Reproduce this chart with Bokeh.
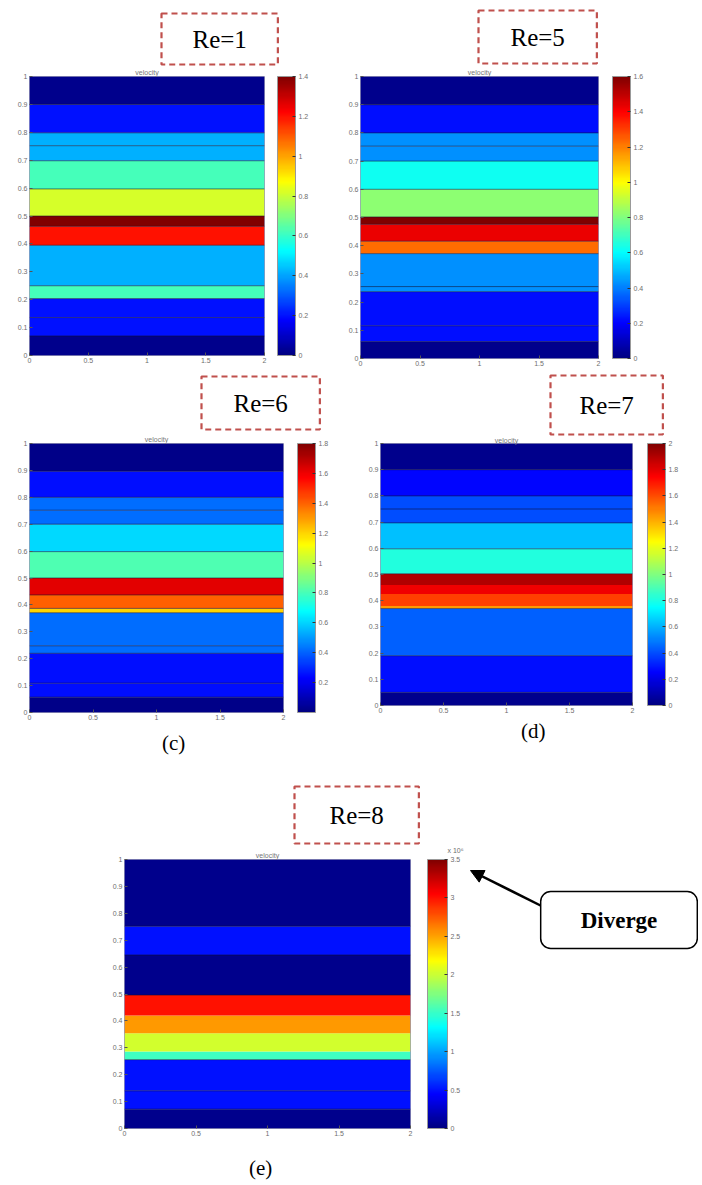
from bokeh.plotting import figure
from bokeh.models import (ColumnDataSource, LinearColorMapper, ColorBar, FixedTicker,
                          PrintfTickFormatter, Label, Arrow, NormalHead, Range1d, Title)
from bokeh.layouts import column, row
from bokeh.embed import file_html
from bokeh.resources import INLINE

# ---------------- data ----------------
X_TICKS = [0, 0.5, 1, 1.5, 2]
Y_TICKS = [0, 0.1, 0.2, 0.3, 0.4, 0.5, 0.6, 0.7, 0.8, 0.9, 1.0]

# Re = 1
A_EDGES = [0, 0.07, 0.136, 0.204, 0.25, 0.395, 0.463, 0.50, 0.597, 0.698, 0.752, 0.798, 0.90, 1.0]
A_VALUES = [0.02, 0.2, 0.2, 0.62, 0.42, 1.2, 1.4, 0.82, 0.62, 0.42, 0.42, 0.2, 0.02]
A_LINES = [0.07, 0.136, 0.204, 0.25, 0.395, 0.463, 0.50, 0.597, 0.698, 0.752, 0.798, 0.90]
A_RANGE = (0, 1.4)
A_CTICKS = [0, 0.2, 0.4, 0.6, 0.8, 1.0, 1.2, 1.4]

# Re = 5
B_EDGES = [0, 0.06, 0.116, 0.237, 0.372, 0.416, 0.476, 0.502, 0.60, 0.70, 0.753, 0.80, 0.90, 1.0]
B_VALUES = [0.02, 0.22, 0.22, 0.43, 1.23, 1.43, 1.6, 0.82, 0.62, 0.43, 0.43, 0.22, 0.02]
B_LINES = [0.06, 0.116, 0.237, 0.255, 0.372, 0.416, 0.476, 0.502, 0.60, 0.70, 0.753, 0.80, 0.90]
B_RANGE = (0, 1.6)
B_CTICKS = [0, 0.2, 0.4, 0.6, 0.8, 1.0, 1.2, 1.4, 1.6]

# Re = 6
C_EDGES = [0, 0.057, 0.109, 0.22, 0.248, 0.371, 0.387, 0.437, 0.50, 0.598, 0.70, 0.752, 0.80, 0.897, 1.0]
C_VALUES = [0.02, 0.25, 0.25, 0.42, 0.42, 1.2, 1.4, 1.62, 0.81, 0.61, 0.42, 0.42, 0.25, 0.02]
C_LINES = [0.057, 0.109, 0.22, 0.248, 0.371, 0.387, 0.437, 0.50, 0.598, 0.70, 0.752, 0.80, 0.897]
C_RANGE = (0, 1.8)
C_CTICKS = [0.2, 0.4, 0.6, 0.8, 1.0, 1.2, 1.4, 1.6, 1.8]

# Re = 7
D_EDGES = [0, 0.05, 0.19, 0.37, 0.38, 0.426, 0.46, 0.503, 0.598, 0.697, 0.75, 0.80, 0.90, 1.0]
D_VALUES = [0.03, 0.28, 0.44, 1.45, 1.62, 1.78, 1.9, 0.82, 0.63, 0.4, 0.4, 0.26, 0.03]
D_LINES = [0.05, 0.19, 0.37, 0.503, 0.598, 0.697, 0.75, 0.80, 0.90]
D_RANGE = (0, 2.0)
D_CTICKS = [0, 0.2, 0.4, 0.6, 0.8, 1.0, 1.2, 1.4, 1.6, 1.8, 2.0]

# Re = 8
E_EDGES = [0, 0.072, 0.14, 0.256, 0.286, 0.354, 0.42, 0.496, 0.645, 0.752, 1.0]
E_VALUES = [0.05, 0.5, 0.5, 1.53, 2.03, 2.54, 3.0, 0.05, 0.5, 0.05]
E_LINES = [0.072, 0.14, 0.256, 0.496, 0.645, 0.752]
E_RANGE = (0, 3.5)
E_CTICKS = [0, 0.5, 1.0, 1.5, 2.0, 2.5, 3.0, 3.5]


def jet(n=256):
    cols = []
    for i in range(n):
        t = i / (n - 1)
        r = min(max(1.5 - abs(4 * t - 3), 0), 1)
        g = min(max(1.5 - abs(4 * t - 2), 0), 1)
        b = min(max(1.5 - abs(4 * t - 1), 0), 1)
        cols.append('#%02x%02x%02x' % (int(round(r * 255)), int(round(g * 255)), int(round(b * 255))))
    return cols


JET = jet()
TICK_FONT = "Liberation Sans"
TICK_COLOR = "#6e6e6e"
SERIF = "Liberation Serif"
BOX_COLOR = "#c0504d"


def make_colorbar(mapper, loc, w, h, cticks):
    return ColorBar(color_mapper=mapper, location=loc,
                    width=w, height=h, padding=0, margin=0,
                    ticker=FixedTicker(ticks=cticks), formatter=PrintfTickFormatter(format="%g"),
                    major_label_text_font=TICK_FONT, major_label_text_font_size="7px",
                    major_label_text_color=TICK_COLOR, major_tick_in=3, major_tick_out=0,
                    major_tick_line_color="#333333", minor_tick_line_color=None,
                    label_standoff=3, bar_line_color="#999999", border_line_color=None,
                    background_fill_color=None)


def make_panel(edges, values, lines, vrange, cticks, re_text, g, caption=None, own_cbar=True):
    p = figure(frame_width=g['fw'], frame_height=g['fh'],
               min_border_left=g['bl'], min_border_top=g['bt'],
               min_border_bottom=g['bb'], min_border_right=g['br'],
               x_range=Range1d(0, 2), y_range=Range1d(0, 1),
               toolbar_location=None, output_backend="svg")
    p.grid.visible = False
    p.outline_line_color = "#9a9ab8"
    p.background_fill_color = "white"
    p.border_fill_color = "white"

    # "velocity" title, then the dashed "Re=" box stacked above it
    p.add_layout(Title(text="velocity", align="center", text_font=TICK_FONT,
                       text_font_size="7px", text_font_style="normal",
                       text_color="#777777", standoff=g['vsd']), "above")
    bw, bh = g['boxwh']
    p.add_layout(Title(text=re_text, align="left", offset=g['boxdx'],
                       text_font=SERIF, text_font_size="25px", text_font_style="normal",
                       text_color="black", standoff=g['boxsd'],
                       border_line_color=BOX_COLOR, border_line_width=2.2,
                       border_line_dash="6 4", background_fill_color="white",
                       padding=(int((bw - 54) / 2), int((bh - 28) / 2))), "above")
    if caption is not None:
        ctext, cdx, csd = caption
        p.add_layout(Title(text=ctext, align="left", offset=cdx, text_font=SERIF,
                           text_font_size="21px", text_font_style="normal",
                           text_color="black", standoff=csd), "below")

    for ax, ticks in ((p.xaxis, X_TICKS), (p.yaxis, Y_TICKS)):
        ax.ticker = FixedTicker(ticks=ticks)
        ax.formatter = PrintfTickFormatter(format="%g")
        ax.major_label_text_font = TICK_FONT
        ax.major_label_text_font_size = "7px"
        ax.major_label_text_color = TICK_COLOR
        ax.major_tick_in = 3
        ax.major_tick_out = 0
        ax.minor_tick_line_color = None
        ax.axis_line_color = None
        ax.major_tick_line_color = "#555555"
        ax.major_label_standoff = 2

    mapper = LinearColorMapper(palette=JET, low=vrange[0], high=vrange[1])
    src = ColumnDataSource(dict(bottom=edges[:-1], top=edges[1:], val=values))
    p.quad(left=0, right=2, bottom='bottom', top='top', source=src,
           fill_color={'field': 'val', 'transform': mapper}, line_color=None)
    p.segment(x0=0, x1=2, y0=lines, y1=lines, line_color="#101030", line_alpha=0.55, line_width=1)

    if own_cbar:
        p.add_layout(make_colorbar(mapper, (g['fw'] + g['gap'], 0), g['cbw'], g['fh'], cticks))
    return p, mapper


GA = dict(fw=235, fh=279, bl=29, bt=76, bb=15, br=74, gap=13, cbw=18,
          boxwh=(116, 52), boxdx=132, boxsd=4, vsd=1)
GB = dict(fw=238, fh=282, bl=22, bt=76, bb=12, br=96, gap=14, cbw=18,
          boxwh=(119, 54), boxdx=118, boxsd=6, vsd=1)
GC = dict(fw=254, fh=269, bl=29, bt=71, bb=50, br=65, gap=14, cbw=18,
          boxwh=(118, 55), boxdx=172, boxsd=8, vsd=1)
GD = dict(fw=252, fh=262, bl=32, bt=71, bb=57, br=62, gap=15, cbw=18,
          boxwh=(113, 60), boxdx=170, boxsd=0, vsd=0)
GE = dict(fw=286, fh=269, bl=124, bt=97, bb=59, br=10, gap=17, cbw=20,
          boxwh=(124, 59), boxdx=170, boxsd=12, vsd=1)

pa, _ = make_panel(A_EDGES, A_VALUES, A_LINES, A_RANGE, A_CTICKS, "Re=1", GA)
pb, _ = make_panel(B_EDGES, B_VALUES, B_LINES, B_RANGE, B_CTICKS, "Re=5", GB)
pc, _ = make_panel(C_EDGES, C_VALUES, C_LINES, C_RANGE, C_CTICKS, "Re=6", GC, caption=("(c)", 132.5, 12))
pd, _ = make_panel(D_EDGES, D_VALUES, D_LINES, D_RANGE, D_CTICKS, "Re=7", GD, caption=("(d)", 140.5, 2))
pe, e_mapper = make_panel(E_EDGES, E_VALUES, E_LINES, E_RANGE, E_CTICKS, "Re=8", GE,
                          caption=("(e)", 124.5, 31), own_cbar=False)

# side canvas of panel (e): its colour bar, the "x 10^6" multiplier and the "Diverge" callout
pn = figure(frame_width=230, frame_height=269, min_border_left=48, min_border_right=0,
            min_border_top=97, min_border_bottom=59, x_range=Range1d(0, 1), y_range=Range1d(0, 1),
            toolbar_location=None, output_backend="svg")
pn.axis.visible = False
pn.grid.visible = False
pn.outline_line_color = None
pn.border_fill_color = "white"
pn.background_fill_color = "white"
pn.add_layout(make_colorbar(e_mapper, (-41, 0), 20, 269, E_CTICKS))
pn.add_layout(Title(text="x 10\u2076", align="left", offset=-21, text_font=TICK_FONT,
                    text_font_size="7px", text_font_style="normal", text_color=TICK_COLOR,
                    standoff=12), "above")
pn.add_layout(Arrow(end=NormalHead(size=13, fill_color="black", line_color="black"),
                    x_start=72, y_start=223, x_end=2, y_end=258,
                    start_units='screen', end_units='screen',
                    line_color="black", line_width=2.5))
pn.add_layout(Label(x=150.5, y=208.5, x_units='screen', y_units='screen', text="Diverge",
                    text_font=SERIF, text_font_size="23px", text_font_style="bold",
                    text_align="center", text_baseline="middle", text_color="black",
                    border_line_color="black", border_line_width=1.5, border_radius=10,
                    background_fill_color="white", padding=(40, 16)))

layout = column(row(pa, pb), row(pc, pd), row(pe, pn))
open("out.html", "w").write(file_html(layout, INLINE))
